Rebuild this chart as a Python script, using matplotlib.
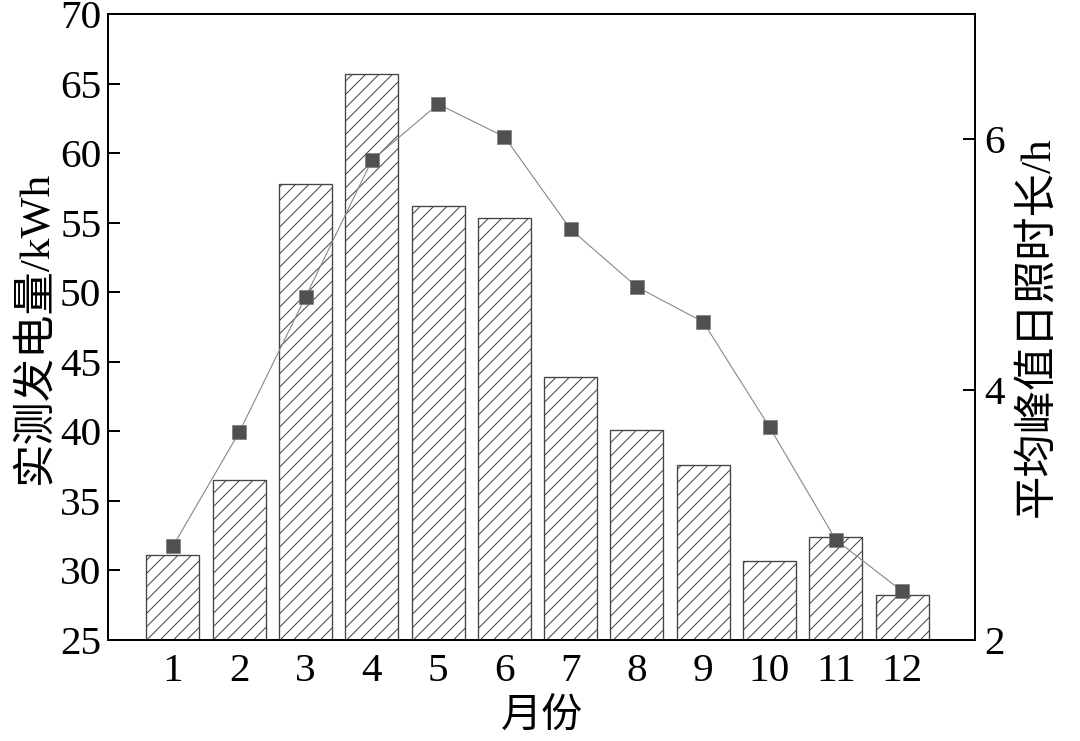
import matplotlib
matplotlib.use("Agg")
import matplotlib.pyplot as plt
import numpy as np

months = [1, 2, 3, 4, 5, 6, 7, 8, 9, 10, 11, 12]
month_labels = ["1", "2", "3", "4", "5", "6", "7", "8", "9", "10", "11", "12"]
energy = [31.1, 36.5, 57.8, 65.7, 56.2, 55.3, 43.9, 40.1, 37.6, 30.7, 32.4, 28.2]   # kWh
sun_hours = [2.75, 3.66, 4.74, 5.83, 6.28, 6.02, 5.28, 4.82, 4.54, 3.70, 2.80, 2.39]  # h

plt.rcParams['font.family'] = ['Liberation Serif', 'Noto Sans CJK SC']
plt.rcParams['hatch.linewidth'] = 0.9
plt.rcParams['hatch.color'] = '#333333'

DPI = 80
fig = plt.figure(figsize=(1080 / DPI, 741 / DPI), dpi=DPI)
ax = fig.add_axes([108 / 1080, 101 / 741, 867 / 1080, 626 / 741])

ax.bar(months, energy, width=0.8, bottom=0, color='white', edgecolor='#444444',
       linewidth=1.2, hatch='//', zorder=2)
ax.set_ylim(25, 70)
ax.set_xlim(0.02, 13.1)
ax.set_yticks(np.arange(25, 71, 5))
ax.set_xticks(months)
ax.set_xticklabels(month_labels)

ax2 = ax.twinx()
ax2.plot(months, sun_hours, color='#888888', linewidth=1.0, marker='s',
         markersize=12.5, markerfacecolor='#505050', markeredgecolor='#777777',
         markeredgewidth=0.6, zorder=3)
ax2.set_ylim(2, 7)
ax2.set_yticks([2, 4, 6])

fs = 37
for a in (ax, ax2):
    for s in a.spines.values():
        s.set_linewidth(1.8)
        s.set_color('black')
ax.tick_params(axis='y', direction='in', length=11, width=1.8, labelsize=fs, pad=6)
ax.tick_params(axis='x', direction='in', length=9, width=1.8, labelsize=fs, pad=12)
ax2.tick_params(axis='y', direction='in', length=11, width=1.8, labelsize=fs, pad=8)

ax.set_ylabel('实测发电量/kWh', fontsize=39, labelpad=4)
ax.set_xlabel('月份', fontsize=fs, labelpad=8)
ax2.set_ylabel('平均峰值日照时长/h', fontsize=39, labelpad=12)

fig.savefig('out.png', dpi=DPI)
